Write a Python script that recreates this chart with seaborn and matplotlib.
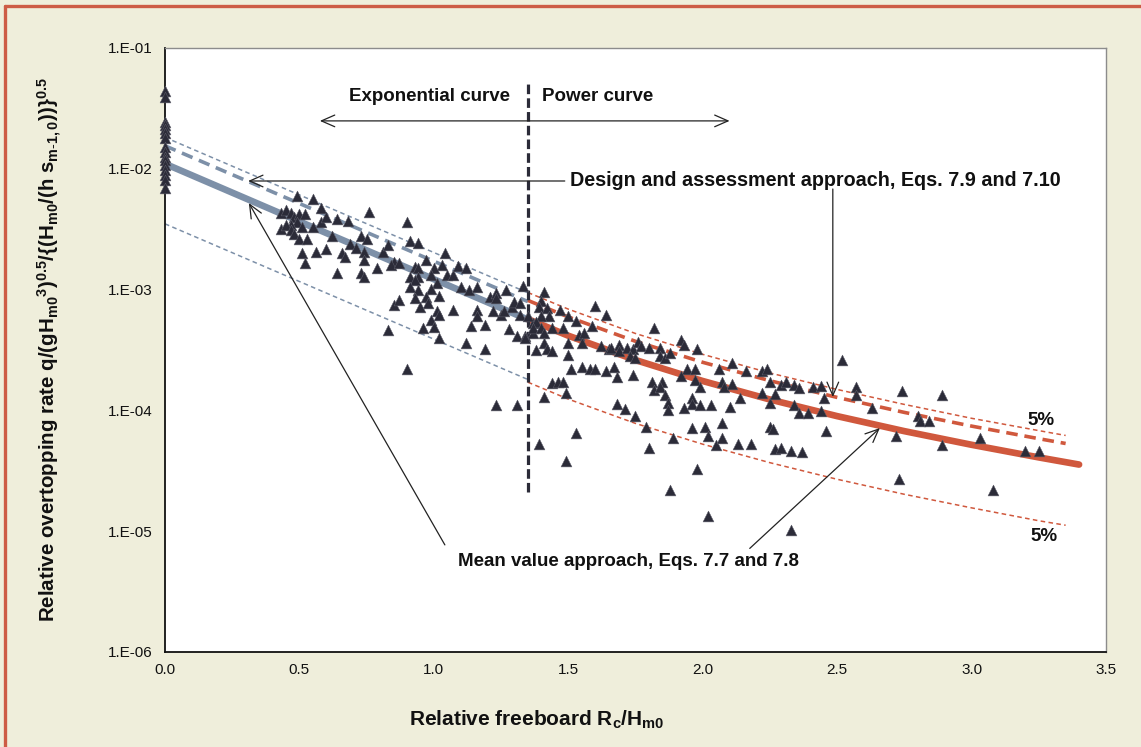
import numpy as np
import matplotlib
matplotlib.use("Agg")
import matplotlib.pyplot as plt
from matplotlib.ticker import FuncFormatter, LogLocator, MultipleLocator, FormatStrFormatter
from matplotlib.lines import Line2D
import seaborn as sns

x_data = [0.0] * 16 + [
    0.49, 0.55, 0.58, 0.43, 0.45, 0.47, 0.48, 0.50, 0.52, 0.49, 0.47, 0.51, 0.43, 0.45, 0.47, 0.48, 0.50,
    0.53, 0.55, 0.58, 0.60, 0.62, 0.64, 0.68, 0.66, 0.69, 0.71, 0.51, 0.52, 0.56, 0.60, 0.67, 0.64,
    0.76, 0.90, 0.73, 0.75, 0.74, 0.74, 0.79, 0.73, 0.74, 0.81, 0.83, 0.85, 0.84, 0.87, 0.91, 0.94,
    1.04, 1.03, 0.97, 0.93, 0.94, 1.00, 0.99, 0.91, 0.94, 0.93, 1.01, 0.91, 0.94, 0.99, 1.02, 1.05,
    1.07, 1.09, 1.12, 1.10, 1.13, 1.16, 0.85, 0.87, 0.93, 0.95, 0.97, 0.98, 1.01, 1.02, 0.99, 0.96,
    1.00, 1.02, 1.07, 1.12, 1.16, 1.16, 1.14, 1.19, 1.19, 1.21, 1.23, 1.23, 1.22, 1.25, 1.26, 1.27,
    1.29, 1.30, 1.32, 1.33, 1.28, 1.31, 1.34, 1.32, 0.83, 0.90, 1.23, 1.31, 1.37, 1.37,
    1.41, 1.40, 1.39, 1.42, 1.47, 1.43, 1.40, 1.35, 1.38, 1.37, 1.40, 1.41, 1.44, 1.48, 1.50, 1.53,
    1.59, 1.60, 1.64, 1.54, 1.56, 1.55, 1.50, 1.50, 1.41, 1.42, 1.44, 1.38, 1.34, 1.51, 1.55, 1.58,
    1.60, 1.64, 1.67, 1.68, 1.62, 1.65, 1.66, 1.69, 1.69, 1.72, 1.74, 1.73, 1.75, 1.76, 1.77, 1.80,
    1.84, 1.82, 1.92, 1.93, 1.98, 1.84, 1.86, 1.88, 1.94, 1.97, 1.92, 1.97, 1.99, 1.81, 1.85, 1.82,
    1.84, 1.86, 1.87, 1.87, 1.96, 1.96, 1.99, 2.03, 1.93, 1.74, 1.68, 1.71, 1.75, 1.79, 1.44, 1.46,
    1.48, 1.49, 1.41, 1.53, 1.39, 1.49, 1.80, 1.89, 1.96, 2.01, 2.02, 2.05, 1.98, 1.88, 2.02,
    2.06, 2.11, 2.16, 2.22, 2.24, 2.25, 2.29, 2.31, 2.34, 2.36, 2.41, 2.44, 2.45, 2.52, 2.57, 2.57,
    2.63, 2.07, 2.08, 2.11, 2.14, 2.22, 2.25, 2.27, 2.34, 2.36, 2.39, 2.44, 2.46, 2.10, 2.07, 2.25,
    2.26, 2.07, 2.13, 2.18, 2.27, 2.29, 2.33, 2.37, 2.72, 2.73, 2.33,
    2.74, 2.89, 2.80, 2.81, 2.84, 2.89, 3.03, 3.20, 3.25, 3.08,
]
y_data = [
    4.4e-2, 3.95e-2, 2.45e-2, 2.3e-2, 2.15e-2, 1.97e-2, 1.79e-2, 1.52e-2, 1.38e-2, 1.26e-2, 1.18e-2,
    1.07e-2, 9.8e-3, 8.9e-3, 8.1e-3, 6.9e-3,
    5.9e-3, 5.6e-3, 4.7e-3, 4.3e-3, 4.6e-3, 4.3e-3, 4.0e-3, 4.2e-3, 4.2e-3, 3.65e-3, 3.4e-3, 3.3e-3,
    3.2e-3, 3.4e-3, 3.1e-3, 2.9e-3, 2.6e-3, 2.6e-3, 3.3e-3, 3.65e-3, 4.0e-3, 2.8e-3, 3.85e-3, 3.7e-3,
    2.0e-3, 2.4e-3, 2.2e-3, 2.0e-3, 1.67e-3, 2.06e-3, 2.15e-3, 1.87e-3, 1.38e-3,
    4.4e-3, 3.6e-3, 2.8e-3, 2.6e-3, 2.06e-3, 1.76e-3, 1.5e-3, 1.37e-3, 1.28e-3, 2.06e-3, 2.34e-3,
    1.7e-3, 1.6e-3, 1.65e-3, 2.5e-3, 2.45e-3, 2.0e-3, 1.6e-3, 1.76e-3, 1.55e-3, 1.5e-3, 1.52e-3,
    1.32e-3, 1.28e-3, 1.27e-3, 1.2e-3, 1.13e-3, 1.06e-3, 1.0e-3, 1.02e-3, 8.85e-4, 1.32e-3, 1.32e-3,
    1.57e-3, 1.52e-3, 1.06e-3, 1.0e-3, 1.06e-3, 7.5e-4, 8.2e-4, 8.5e-4, 7.2e-4, 8.7e-4, 7.7e-4,
    6.6e-4, 6.2e-4, 5.6e-4, 4.8e-4, 4.9e-4, 4.0e-4, 6.8e-4, 3.6e-4, 6.8e-4, 6.0e-4, 5.0e-4, 5.1e-4,
    3.2e-4, 8.6e-4, 9.3e-4, 8.5e-4, 6.6e-4, 6.2e-4, 6.6e-4, 1.0e-3, 7.2e-4, 7.9e-4, 7.7e-4, 1.07e-3,
    4.7e-4, 4.1e-4, 4.1e-4, 6.2e-4, 4.6e-4, 2.2e-4, 1.1e-4, 1.1e-4, 4.35e-4, 5.3e-4,
    9.6e-4, 8.1e-4, 7.2e-4, 7.0e-4, 6.8e-4, 6.0e-4, 6.0e-4, 6.0e-4, 5.4e-4, 4.8e-4, 4.8e-4, 4.35e-4,
    4.8e-4, 4.8e-4, 6.0e-4, 5.5e-4, 5.0e-4, 7.3e-4, 6.2e-4, 4.2e-4, 4.35e-4, 3.6e-4, 3.6e-4, 2.9e-4,
    3.6e-4, 3.2e-4, 3.1e-4, 3.15e-4, 4.0e-4, 2.2e-4, 2.3e-4, 2.2e-4, 2.2e-4, 2.1e-4, 2.3e-4, 1.88e-4,
    3.4e-4, 3.2e-4, 3.3e-4, 3.5e-4, 3.1e-4, 3.3e-4, 3.2e-4, 2.8e-4, 2.7e-4, 3.7e-4, 3.4e-4, 3.3e-4,
    3.3e-4, 4.8e-4, 3.8e-4, 3.5e-4, 3.2e-4, 2.8e-4, 2.7e-4, 3.0e-4, 2.2e-4, 2.2e-4, 1.93e-4, 1.78e-4,
    1.57e-4, 1.73e-4, 1.73e-4, 1.48e-4, 1.57e-4, 1.34e-4, 1.15e-4, 1.0e-4, 1.26e-4, 1.13e-4, 1.1e-4,
    1.1e-4, 1.04e-4, 1.96e-4, 1.13e-4, 1.02e-4, 9.0e-5, 7.3e-5, 1.68e-4, 1.73e-4, 1.73e-4, 1.39e-4,
    1.3e-4, 6.5e-5, 5.3e-5, 3.8e-5, 4.9e-5, 5.9e-5, 7.2e-5, 7.3e-5, 6.1e-5, 5.2e-5, 3.3e-5, 2.2e-5,
    1.34e-5,
    2.2e-4, 2.45e-4, 2.1e-4, 2.1e-4, 2.2e-4, 1.73e-4, 1.62e-4, 1.73e-4, 1.62e-4, 1.53e-4, 1.55e-4,
    1.6e-4, 1.26e-4, 2.6e-4, 1.55e-4, 1.34e-4, 1.04e-4, 1.73e-4, 1.55e-4, 1.65e-4, 1.26e-4, 1.38e-4,
    1.14e-4, 1.36e-4, 1.1e-4, 9.5e-5, 9.6e-5, 9.8e-5, 6.8e-5, 1.06e-4, 7.8e-5, 7.25e-5, 7.0e-5, 5.9e-5,
    5.3e-5, 5.3e-5, 4.8e-5, 4.9e-5, 4.6e-5, 4.5e-5, 6.1e-5, 2.7e-5, 1.02e-5,
    1.46e-4, 1.34e-4, 8.9e-5, 8.1e-5, 8.1e-5, 5.2e-5, 5.9e-5, 4.6e-5, 4.6e-5, 2.2e-5,
]

# exponential part (Rc/Hm0 < 1.35): mean, design, 5% bounds
exp_x = [0.0, 1.35]
mean_exp = [1.1e-2, 5.64e-4]
design_exp = [1.55e-2, 7.95e-4]
upper_exp = [1.82e-2, 9.4e-4]
lower_exp = [3.5e-3, 1.8e-4]

# power part (Rc/Hm0 > 1.35)
pow_x = [1.35, 1.5, 1.75, 2.0, 2.25, 2.5, 2.75, 3.0, 3.25, 3.4]
mean_pow = [5.69e-4, 4.15e-4, 2.61e-4, 1.75e-4, 1.23e-4, 8.96e-5, 6.73e-5, 5.19e-5, 4.08e-5, 3.56e-5]
bound_x = [1.35, 1.5, 1.75, 2.0, 2.25, 2.5, 2.75, 3.0, 3.25, 3.35]
design_pow = [8.13e-4, 5.93e-4, 3.73e-4, 2.50e-4, 1.76e-4, 1.28e-4, 9.62e-5, 7.41e-5, 5.83e-5, 5.32e-5]
upper_pow = [9.45e-4, 6.89e-4, 4.33e-4, 2.91e-4, 2.04e-4, 1.49e-4, 1.12e-4, 8.6e-5, 6.8e-5, 6.2e-5]
lower_pow = [1.71e-4, 1.24e-4, 7.8e-5, 5.25e-5, 3.69e-5, 2.69e-5, 2.02e-5, 1.56e-5, 1.22e-5, 1.12e-5]

x_ticks = [0.0, 0.5, 1.0, 1.5, 2.0, 2.5, 3.0, 3.5]

BEIGE = '#EFEEDB'
BLUE = '#7D90A8'
RED = '#D0583D'
DARK = '#2B2B38'

sns.set_theme(style="white")
plt.rcParams['font.family'] = ['Liberation Sans', 'DejaVu Sans']
plt.rcParams['mathtext.fontset'] = 'custom'
plt.rcParams['mathtext.rm'] = 'Liberation Sans'
plt.rcParams['mathtext.bf'] = 'Liberation Sans:bold'
plt.rcParams['mathtext.it'] = 'Liberation Sans:italic'

fig = plt.figure(figsize=(11.41, 7.47), dpi=100, facecolor=BEIGE)
ax = fig.add_axes([0.1446, 0.1272, 0.8247, 0.8086])
ax.set_facecolor('white')

# frame around the whole picture (left and top edges visible)
fig.add_artist(Line2D([0.0048, 0.0048], [0, 0.9926], transform=fig.transFigure, color='#CD5C45', lw=2.4))
fig.add_artist(Line2D([0.0048, 1.0], [0.9926, 0.9926], transform=fig.transFigure, color='#CD5C45', lw=2.4))

# curves
thin = (0, (3, 2.2))
ax.plot(exp_x, upper_exp, color=BLUE, lw=1.1, ls=thin, zorder=2)
ax.plot(exp_x, lower_exp, color=BLUE, lw=1.1, ls=thin, zorder=2)
ax.plot(exp_x, design_exp, color=BLUE, lw=2.6, ls=(0, (3.2, 1.9)), zorder=2)
ax.plot(exp_x, mean_exp, color=BLUE, lw=4.8, solid_capstyle='butt', zorder=2)
ax.plot(bound_x, upper_pow, color=RED, lw=1.1, ls=thin, zorder=2)
ax.plot(bound_x, lower_pow, color=RED, lw=1.1, ls=thin, zorder=2)
ax.plot(bound_x, design_pow, color=RED, lw=2.6, ls=(0, (3.2, 1.9)), zorder=2)
ax.plot(pow_x, mean_pow, color=RED, lw=4.8, solid_capstyle='round', zorder=2)

# boundary between exponential and power curve
ax.plot([1.35, 1.35], [2.1e-5, 5.2e-2], color=DARK, lw=2.3, ls=(0, (3, 1.3)), zorder=3)

sns.scatterplot(x=x_data, y=y_data, marker='^', s=60, color=DARK, edgecolor='#5A5A66',
                linewidth=0.4, ax=ax, zorder=4, legend=False, clip_on=False)

ax.set_yscale('log')
ax.set_xlim(0, 3.5)
ax.set_ylim(1e-6, 1e-1)
ax.xaxis.set_major_locator(MultipleLocator(0.5))
ax.xaxis.set_minor_locator(MultipleLocator(0.1))
ax.xaxis.set_major_formatter(FormatStrFormatter('%.1f'))
ax.set_xticks(x_ticks)
ax.yaxis.set_major_locator(LogLocator(base=10, numticks=10))
ax.yaxis.set_minor_locator(LogLocator(base=10, subs=np.arange(2, 10), numticks=20))
ax.yaxis.set_major_formatter(FuncFormatter(lambda v, p: "1.E%03d" % int(round(np.log10(v)))))
ax.tick_params(which='both', direction='in', color='#9A9A9A', width=0.8, labelsize=11,
               labelcolor='#111111')
ax.tick_params(which='major', length=4)
ax.tick_params(which='minor', length=3)
ax.tick_params(axis='y', which='both', pad=9)
ax.tick_params(axis='x', which='both', pad=8)

for s in ['left', 'bottom']:
    ax.spines[s].set_color('#111111')
    ax.spines[s].set_linewidth(1.3)
for s in ['top', 'right']:
    ax.spines[s].set_color('#8C8C8C')
    ax.spines[s].set_linewidth(1.0)

ax.set_ylabel(r'Relative overtopping rate q/(gH$_{\mathbf{m0}}{}^{\mathbf{3}}$)$^{\mathbf{0.5}}$'
              r'/{(H$_{\mathbf{m0}}$/(h s$_{\mathbf{m\text{-}1,0}}$))}$^{\mathbf{0.5}}$',
              fontsize=14.8, fontweight='bold', color='#111111')
ax.yaxis.label.set_va('center')
ax.yaxis.set_label_coords(-0.122, 0.5)
ax.set_xlabel(r'Relative freeboard R$_{\mathbf{c}}$/H$_{\mathbf{m0}}$', fontsize=15,
              fontweight='bold', color='#111111')
ax.xaxis.label.set_va('center')
ax.xaxis.set_label_coords(0.395, -0.1126)

tkw = dict(fontsize=13.5, fontweight='bold', color='#111111', zorder=6)
ax.text(0.985, 3.93e-2, 'Exponential curve', ha='center', va='center', **tkw)
ax.text(1.402, 3.93e-2, 'Power curve', ha='left', va='center', **tkw)
ax.text(1.506, 7.92e-3, 'Design and assessment approach, Eqs. 7.9 and 7.10', ha='left', va='center',
        fontsize=14.2, fontweight='bold', color='#111111', zorder=6)
ax.text(1.09, 5.6e-6, 'Mean value approach, Eqs. 7.7 and 7.8', ha='left', va='center', **tkw)
ax.text(3.26, 8.3e-5, '5%', ha='center', va='center', **tkw)
ax.text(3.27, 8.95e-6, '5%', ha='center', va='center', **tkw)

akw = dict(arrowstyle='->,head_length=0.8,head_width=0.35', color='#222222', lw=0.9,
           shrinkA=0, shrinkB=0)
dkw = dict(arrowstyle='<->,head_length=0.8,head_width=0.35', color='#222222', lw=0.9,
           shrinkA=0, shrinkB=0)
ax.annotate('', xy=(0.576, 2.49e-2), xytext=(2.10, 2.49e-2), arrowprops=dkw, zorder=6)
ax.annotate('', xy=(0.309, 7.92e-3), xytext=(1.487, 7.92e-3), arrowprops=akw, zorder=6)
ax.annotate('', xy=(2.484, 1.29e-4), xytext=(2.484, 6.8e-3), arrowprops=akw, zorder=6)
ax.annotate('', xy=(0.312, 5.2e-3), xytext=(1.041, 7.7e-6), arrowprops=akw, zorder=6)
ax.annotate('', xy=(2.659, 7.14e-5), xytext=(2.175, 7.2e-6), arrowprops=akw, zorder=6)

fig.savefig('out.png', dpi=100, facecolor=BEIGE)
